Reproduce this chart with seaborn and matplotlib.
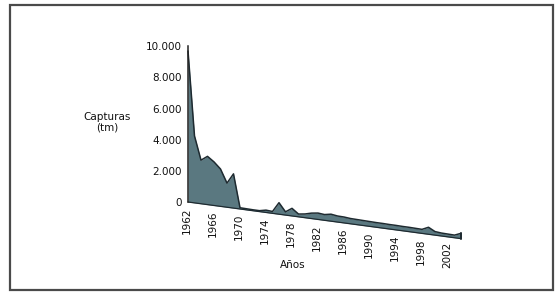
import numpy as np
import pandas as pd
import matplotlib
matplotlib.use("Agg")
import matplotlib.pyplot as plt
import matplotlib.transforms as mtransforms
from matplotlib.patches import Rectangle
import seaborn as sns

# Data
years = list(range(1962, 2005))
capturas = [9700, 4300, 2800, 3100, 2800, 2400, 1550, 2200, 80, 70,
            60, 60, 150, 120, 740, 210, 490, 180, 240, 350,
            410, 370, 450, 390, 380, 340, 330, 320, 310, 300,
            300, 290, 290, 280, 280, 270, 260, 450, 230, 190,
            180, 170, 340]
tick_years = list(range(1962, 2003, 4))

df = pd.DataFrame({"Año": years, "Capturas": capturas})

sns.set_style("white")
plt.rcParams["font.family"] = ["DejaVu Sans"]

fig = plt.figure(figsize=(5.56, 2.93), dpi=100)
ax = fig.add_axes([188 / 556, 50.5 / 293, 279.5 / 556, 196.2 / 293])

# perspective floor: shear the data so the baseline slopes down to the right
k = 56.0
shear = mtransforms.Affine2D(np.array([[1, 0, 0], [-k, 1, k * 1962], [0, 0, 1]]))
tr = shear + ax.transData

ax.fill_between(df["Año"], 0, df["Capturas"], color="#5a7880", lw=0,
                transform=tr, clip_on=False)
sns.lineplot(data=df, x="Año", y="Capturas", ax=ax, color="#1e2a30", lw=1.1,
             transform=tr, clip_on=False)
ax.plot([years[0], years[-1]], [0, 0], color="#1e2a30", lw=0.9,
        transform=tr, clip_on=False)
ax.plot([years[-1], years[-1]], [0, capturas[-1]], color="#1e2a30", lw=1.4,
        transform=tr, clip_on=False)

ax.set_xlim(1962, 2005)
ax.set_ylim(-2600, 10000)

# x labels along the sloped floor
lab_tr = mtransforms.offset_copy(tr, fig=fig, x=-1, y=-5, units="dots")
for yr in tick_years:
    ax.text(yr, 0, str(yr), transform=lab_tr, rotation=90, ha="center",
            va="top", fontsize=7.5, color="#111111")

ax.set_xticks([])
yt = [0, 2000, 4000, 6000, 8000, 10000]
ax.set_yticks(yt)
ax.set_yticklabels([f"{v:,}".replace(",", ".") for v in yt], fontsize=7.5,
                   color="#111111")
ax.tick_params(axis="y", direction="out", length=3, width=1, color="#222222", pad=1.5)
for s in ["top", "right", "bottom"]:
    ax.spines[s].set_visible(False)
ax.spines["left"].set_bounds(0, 10000)
ax.spines["left"].set_color("#222222")
ax.spines["left"].set_linewidth(1.1)
ax.patch.set_alpha(0)
ax.set_xlabel("")
ax.set_ylabel("")

fig.text(107 / 556, 1 - 122 / 293, "Capturas\n(tm)", ha="center", va="center",
         fontsize=7.5, color="#111111", linespacing=1.1)
fig.text(293 / 556, 1 - 265 / 293, "Años", ha="center", va="center",
         fontsize=7.5, color="#111111")

# outer frame
fig.add_artist(Rectangle((10 / 556, 3 / 293), 543 / 556, 285 / 293,
                         transform=fig.transFigure, fill=False,
                         edgecolor="#4a4a4a", lw=1.6))

fig.savefig("out.png", dpi=100)
